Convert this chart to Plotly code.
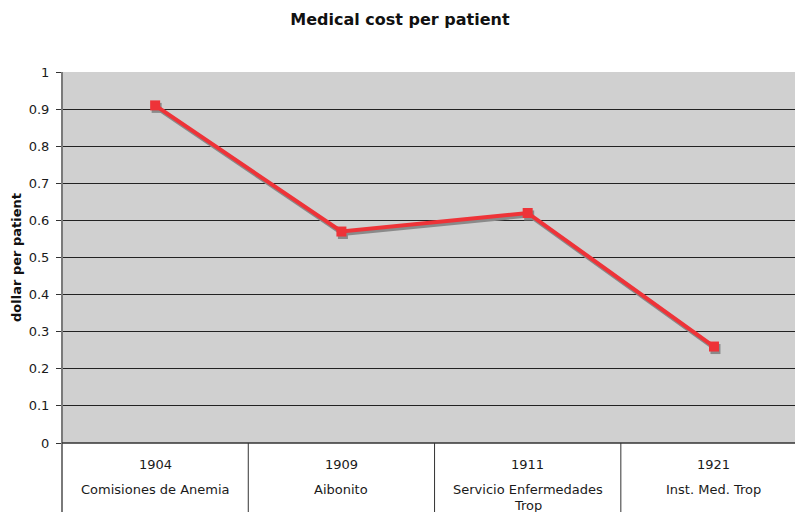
import plotly.graph_objects as go

# Cost per patient by program
years = ["1904", "1909", "1911", "1921"]
programs = ["Comisiones de Anemia", "Aibonito", "Servicio Enfermedades<br>Trop", "Inst. Med. Trop"]
cost = [0.91, 0.57, 0.62, 0.26]

y_ticks = [0, 0.1, 0.2, 0.3, 0.4, 0.5, 0.6, 0.7, 0.8, 0.9, 1]
y_labels = ["0", "0.1", "0.2", "0.3", "0.4", "0.5", "0.6", "0.7", "0.8", "0.9", "1"]

FONT = "DejaVu Sans, Verdana, sans-serif"
plot_h = 512 - 72 - 69
plot_w = 795 - 62
x_range = [-0.5, 3.435]
px_x = plot_w / (x_range[1] - x_range[0])
dx = 1.5 / px_x
dy = 2.5 / plot_h


def py(px_below):
    """Paper y for a pixel offset below the plot's bottom edge."""
    return -px_below / plot_h


fig = go.Figure()

# drop shadow on slightly offset overlay axes, series on top
fig.add_trace(go.Scatter(
    x=list(range(len(years))), y=cost, mode="lines+markers",
    line=dict(color="#8a8a8a", width=4),
    marker=dict(symbol="square", size=10, color="#8a8a8a"),
    xaxis="x2", yaxis="y2", hoverinfo="skip", showlegend=False,
))
fig.add_trace(go.Scatter(
    x=list(range(len(years))), y=cost, mode="lines+markers",
    line=dict(color="#ee3338", width=4),
    marker=dict(symbol="square", size=10, color="#ee3338"),
    xaxis="x3", yaxis="y3", showlegend=False,
))

# category table below the axis
shapes = []
for b in [0.5, 1.5, 2.5]:
    shapes.append(dict(type="line", xref="x", yref="paper", x0=b, x1=b,
                       y0=0, y1=py(69), line=dict(color="#333333", width=1)))
shapes.append(dict(type="line", xref="paper", yref="paper", x0=0, x1=0,
                   y0=1, y1=py(69), line=dict(color="#7a7a7a", width=2)))
shapes.append(dict(type="line", xref="paper", yref="paper", x0=0, x1=1,
                   y0=0, y1=0, line=dict(color="#333333", width=1.5)))

lab_font = dict(family=FONT, size=13, color="#1a1a1a")
annotations = []
for i, (yr, name) in enumerate(zip(years, programs)):
    annotations.append(dict(x=i, y=py(21), xref="x", yref="paper", text=yr,
                            showarrow=False, font=lab_font, yanchor="middle"))
    for k, line in enumerate(name.split("<br>")):
        annotations.append(dict(x=i, y=py(47 + 15 * k), xref="x", yref="paper", text=line,
                                showarrow=False, font=lab_font, yanchor="middle"))

fig.update_layout(
    width=795, height=512,
    margin=dict(l=62, r=0, t=72, b=69),
    paper_bgcolor="white",
    plot_bgcolor="#d0d0d0",
    title=dict(text="<b>Medical cost per patient</b>", x=0.503, xanchor="center",
               y=1 - 19 / 512, yanchor="middle",
               font=dict(family=FONT, size=16, color="#111")),
    xaxis=dict(range=x_range, showticklabels=False, showgrid=False, zeroline=False,
               ticks=""),
    xaxis2=dict(range=[x_range[0] - dx, x_range[1] - dx], overlaying="x", visible=False),
    xaxis3=dict(range=x_range, overlaying="x", visible=False),
    yaxis=dict(range=[0, 1], tickvals=y_ticks, ticktext=y_labels,
               showgrid=True, gridcolor="#222222", gridwidth=1, zeroline=False,
               ticks="outside", ticklen=5, tickcolor="#333", showline=False,
               ticklabelstandoff=4,
               tickfont=dict(family=FONT, size=13, color="#1a1a1a"),
               title=dict(text="<b>dollar per patient</b>", standoff=4,
                          font=dict(family=FONT, size=13, color="#111"))),
    yaxis2=dict(range=[dy, 1 + dy], overlaying="y", visible=False),
    yaxis3=dict(range=[0, 1], overlaying="y", visible=False),
    shapes=shapes,
    annotations=annotations,
)

fig.write_html("out.html")
